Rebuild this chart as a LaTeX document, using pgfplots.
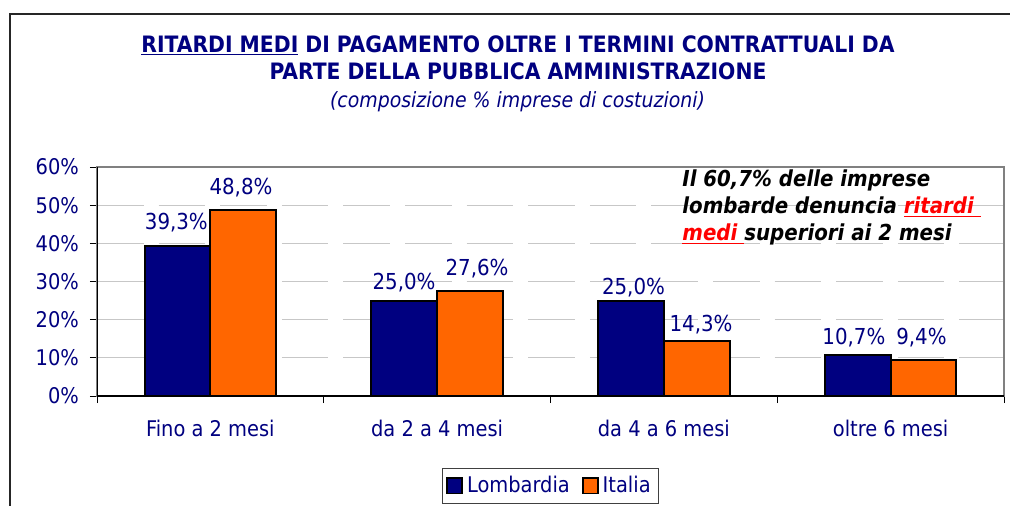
\documentclass[border=0pt]{standalone}
\usepackage{fontspec}
\setmainfont{DejaVu Sans Condensed}
\usepackage{pgfplots}
\pgfplotsset{compat=1.18}
\definecolor{navy}{HTML}{000080}
\definecolor{orng}{HTML}{FF6600}
\definecolor{rred}{HTML}{FF0000}
\begin{document}
\begin{tikzpicture}
\useasboundingbox (0,0) rectangle (505pt,-252.5pt);
\fill[white] (0,0) rectangle (505pt,-252.5pt);
\draw[line width=0.8pt, black!85] (506pt,-7pt) -- (5pt,-7pt) -- (5pt,-253pt);
% titles
\node[anchor=base, font=\bfseries\fontsize{11.3}{13}\selectfont, text=navy, inner sep=0pt] at (259pt,-26pt)
  {\underline{RITARDI MEDI} DI PAGAMENTO OLTRE I TERMINI CONTRATTUALI DA};
\node[anchor=base, font=\bfseries\fontsize{11.3}{13}\selectfont, text=navy, inner sep=0pt] at (259pt,-39.7pt)
  {PARTE DELLA PUBBLICA AMMINISTRAZIONE};
\node[anchor=base, font=\itshape\fontsize{10.5}{13}\selectfont, text=navy, inner sep=0pt] at (258.75pt,-53.5pt)
  {(composizione \% imprese di costuzioni)};
\begin{axis}[
  at={(48.5pt,-198pt)}, anchor=south west,
  scale only axis, width=453.5pt, height=114.5pt,
  xmin=-0.5, xmax=3.5, ymin=0, ymax=60,
  axis line style={draw=black!50, line width=0.9pt},
  xtick={0,1,2,3},
  xticklabels={Fino a 2 mesi, da 2 a 4 mesi, da 4 a 6 mesi, oltre 6 mesi},
  major x tick style={draw=none},
  minor xtick={-0.5,0.5,1.5,2.5,3.5},
  minor x tick style={black, line width=0.5pt},
  minor tick length=3.5pt,
  ytick={0,10,20,30,40,50,60},
  yticklabels={0\%,10\%,20\%,30\%,40\%,50\%,60\%},
  major y tick style={black, line width=0.5pt},
  major tick length=3.5pt,
  tick align=outside,
  xtick pos=bottom, ytick pos=left,
  ymajorgrids,
  major grid style={draw=black!22, line width=0.6pt, dash pattern=on 23.3pt off 7.5pt},
  xticklabel style={font=\fontsize{10.8}{12}\selectfont, text=navy, yshift=-5pt},
  yticklabel style={font=\fontsize{10.8}{12}\selectfont, text=navy, xshift=-2pt},
  legend style={at={(0.5,-0.314)}, anchor=north, legend columns=2,
    draw=black!75, line width=0.6pt, font=\fontsize{10.8}{12}\selectfont, text=navy,
    inner xsep=2pt, inner ysep=1.8pt,
    /tikz/every even column/.append style={column sep=4pt}},
  legend image code/.code={\draw[#1, draw=black, line width=0.9pt] (0pt,-3.8pt) rectangle (7.5pt,3.8pt);},
]
\addplot[ybar, bar width=32.85pt, bar shift=-16.425pt, fill=navy, draw=black, line width=1pt]
  table[x=x, y=y] {
x y
0 39.3
1 25.0
2 25.0
3 10.7
};
\addlegendentry{Lombardia}
\addplot[ybar, bar width=32.85pt, bar shift=16.425pt, fill=orng, draw=black, line width=1pt]
  table[x=x, y=y] {
x y
0 48.8
1 27.6
2 14.3
3 9.4
};
\addlegendentry{Italia}
\addplot[forget plot, draw=none, mark=none, nodes near coords={\pgfplotspointmeta\%},
  point meta=explicit symbolic,
  nodes near coords style={anchor=base, font=\fontsize{11}{12}\selectfont, text=navy, inner sep=0pt}]
  table[x=x, y=y, meta=lab] {
x y lab
-0.150 43.5 39,3
0.135 52.7 48,8
0.854 27.8 25,0
1.176 31.7 27,6
1.866 26.5 25,0
2.164 17.0 14,3
2.838 13.4 10,7
3.136 13.4 9,4
};
\draw[black, line width=0.9pt] (rel axis cs:0,1) -- (rel axis cs:0,0) -- (rel axis cs:1,0);
\end{axis}
% annotation
\begin{scope}[every node/.style={anchor=base west, inner sep=0pt, font=\bfseries\itshape\fontsize{11}{13}\selectfont}]
\node at (341pt,-93pt) {Il 60,7\% delle imprese};
\node at (341pt,-106.5pt) {lombarde denuncia \textcolor{rred}{\underline{ritardi\ }}};
\node at (341pt,-120pt) {\textcolor{rred}{\underline{medi\ }}superiori ai 2 mesi};
\end{scope}
\end{tikzpicture}
\end{document}
